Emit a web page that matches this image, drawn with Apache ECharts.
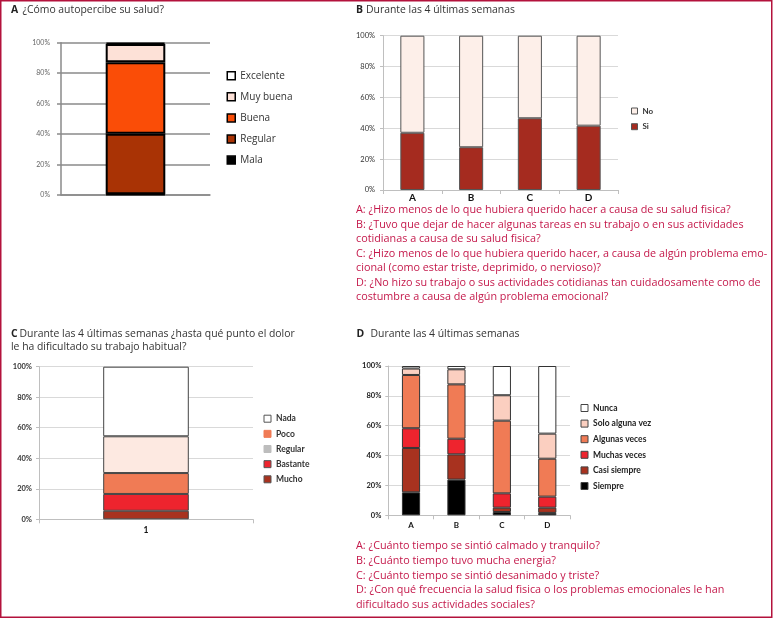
<!DOCTYPE html>
<html><head><meta charset="utf-8">
<script src="https://cdn.jsdelivr.net/npm/echarts@6/dist/echarts.min.js"></script>
<style>html,body{margin:0;padding:0;background:#fff}#c{width:773px;height:619px}</style>
</head><body><div id="c"></div>
<script>
// ---- Panel A data ----
const catA = [''];
const malaA = [0.5];
const regularA = [39.7];
const buenaA = [46.9];
const muyBuenaA = [12.0];
const excelenteA = [0.9];
// ---- Panel B data ----
const catB = ['A', 'B', 'C', 'D'];
const siB = [37.1, 27.7, 46.5, 41.7];
const noB = [62.9, 72.3, 53.5, 58.3];
// ---- Panel C data ----
const catC = ['1'];
const muchoC = [5.6];
const bastanteC = [11.0];
const regularC = [13.7];
const pocoC = [24.1];
const nadaC = [45.6];
// ---- Panel D data ----
const catD = ['A', 'B', 'C', 'D'];
const siempreD = [15.4, 23.9, 2.2, 1.6];
const casiSiempreD = [29.7, 16.9, 2.9, 3.5];
const muchasVecesD = [13.2, 10.5, 9.6, 7.4];
const algunasVecesD = [35.7, 36.4, 48.7, 25.4];
const soloAlgunaVezD = [4.3, 10.1, 17.0, 16.8];
const nuncaD = [1.7, 2.2, 19.6, 45.3];
// ---- tick labels ----
const yTickLabels = ['0%', '20%', '40%', '60%', '80%', '100%'];
// ---- texts ----
const titleA = ['A', '¿Cómo autopercibe su salud?'];
const titleB = ['B', 'Durante las 4 últimas semanas'];
const titleC = ['C', 'Durante las 4 últimas semanas ¿hasta qué punto el dolor', 'le ha dificultado su trabajo habitual?'];
const titleD = ['D', 'Durante las 4 últimas semanas'];
const questionsB = [
  'A: ¿Hizo menos de lo que hubiera querido hacer a causa de su salud fisica?',
  'B: ¿Tuvo que dejar de hacer algunas tareas en su trabajo o en sus actividades',
  'cotidianas a causa de su salud fisica?',
  'C: ¿Hizo menos de lo que hubiera querido hacer, a causa de algún problema emo-',
  'cional (como estar triste, deprimido, o nervioso)?',
  'D: ¿No hizo su trabajo o sus actividades cotidianas tan cuidadosamente como de',
  'costumbre a causa de algún problema emocional?'
];
const questionsD = [
  'A: ¿Cuánto tiempo se sintió calmado y tranquilo?',
  'B: ¿Cuánto tiempo tuvo mucha energia?',
  'C: ¿Cuánto tiempo se sintió desanimado y triste?',
  'D: ¿Con qué frecuencia la salud fisica o los problemas emocionales le han',
  'dificultado sus actividades sociales?'
];

const TF = "'Open Sans', 'Noto Sans', sans-serif";
const LF = "Lato, 'Liberation Sans', sans-serif";
const RED = '#c4184a';

const fmt = v => yTickLabels[Math.round(v / 20)];

function yAxis(gi, o) {
  return {
    type: 'value', gridIndex: gi, min: 0, max: 100, interval: 20,
    axisLine: { show: true, lineStyle: { color: o.axis, width: o.w } },
    axisTick: { show: true, length: o.tick, lineStyle: { color: o.axis, width: o.w } },
    splitLine: { show: true, lineStyle: { color: o.split, width: o.w } },
    axisLabel: { formatter: fmt, fontSize: o.fs, color: o.lc, fontFamily: LF, fontWeight: o.fw, margin: o.m }
  };
}
function xAxis(gi, data, o) {
  return {
    type: 'category', gridIndex: gi, data: data,
    axisLine: { show: true, lineStyle: { color: o.axis, width: o.w } },
    axisTick: { show: o.tick > 0, length: o.tick, lineStyle: { color: o.axis } },
    axisLabel: { show: o.label, fontSize: o.fs, color: '#111', fontFamily: LF, fontWeight: 'bold', margin: o.m }
  };
}
function bar(name, data, gi, stack, color, bc, bw, width) {
  return {
    type: 'bar', name: name, data: data, xAxisIndex: gi, yAxisIndex: gi, stack: stack,
    barWidth: width,
    itemStyle: { color: color, borderColor: bc, borderWidth: bw },
    emphasis: { disabled: true }
  };
}
function legend(left, top, gap, iw, ih, fs, lh, fw, color, items) {
  return {
    orient: 'vertical', left: left, top: top, padding: 0, itemGap: gap, itemWidth: iw, itemHeight: ih,
    icon: 'rect', selectedMode: false,
    textStyle: { fontSize: fs, lineHeight: lh, fontFamily: fs > 9 ? TF : LF, fontWeight: fw, color: color },
    data: items.map(it => ({ name: it[0], itemStyle: { color: it[1], borderColor: it[2], borderWidth: it[3] } }))
  };
}
function txt(x, y, s, size, color, weight) {
  return { type: 'text', x: x, y: y, silent: true,
    style: { text: s, fontSize: size, fontFamily: TF, fontWeight: weight || 'normal', fill: color, verticalAlign: 'middle', align: 'left' } };
}

const TS = 10.4, QS = 10.8;
const graphics = [
  { type: 'rect', silent: true, shape: { x: 0.75, y: 0.75, width: 771, height: 616.5 }, style: { fill: 'none', stroke: '#b3123c', lineWidth: 1.5 } },
  txt(11, 10, titleA[0], TS, '#222', 'bold'), txt(22.5, 10, titleA[1], TS, '#333'),
  txt(356, 10, titleB[0], TS, '#222', 'bold'), txt(366, 10, titleB[1], TS, '#333'),
  txt(11, 334, titleC[0], TS, '#222', 'bold'), txt(19.5, 334, titleC[1], TS, '#333'), txt(11, 347, titleC[2], TS, '#333'),
  txt(356.5, 334, titleD[0], TS, '#222', 'bold'), txt(370.5, 334, titleD[1], TS, '#333')
];
questionsB.forEach((s, i) => graphics.push(txt(356, 210 + i * 14.5, s, QS, RED)));
questionsD.forEach((s, i) => graphics.push(txt(356, 546 + i * 14.75, s, QS, RED)));

const option = {
  animation: false,
  backgroundColor: '#fff',
  grid: [
    { left: 61, top: 42.7, width: 149, height: 152.3 },
    { left: 383, top: 35.7, width: 235, height: 154.3 },
    { left: 39, top: 366.7, width: 214, height: 152.6 },
    { left: 388.3, top: 366, width: 181.7, height: 149.3 }
  ],
  xAxis: [
    xAxis(0, catA, { axis: '#8a8a8a', w: 1.5, tick: 0, label: false, fs: 8, m: 4 }),
    xAxis(1, catB, { axis: '#bfbfbf', w: 1, tick: 4, label: true, fs: 10, m: 3 }),
    xAxis(2, catC, { axis: '#bfbfbf', w: 1, tick: 4, label: true, fs: 8.5, m: 6 }),
    xAxis(3, catD, { axis: '#bfbfbf', w: 1, tick: 4, label: true, fs: 8, m: 6 })
  ],
  yAxis: [
    yAxis(0, { axis: '#8a8a8a', split: '#8a8a8a', w: 1.5, tick: 4, fs: 7, lc: '#666', fw: 'normal', m: 11 }),
    yAxis(1, { axis: '#bfbfbf', split: '#d9d9d9', w: 1, tick: 3, fs: 7.5, lc: '#333', fw: 'normal', m: 8 }),
    yAxis(2, { axis: '#bfbfbf', split: '#d9d9d9', w: 1, tick: 3, fs: 7.5, lc: '#333', fw: 'bold', m: 7 }),
    yAxis(3, { axis: '#bfbfbf', split: '#d9d9d9', w: 1, tick: 3, fs: 7.5, lc: '#222', fw: 'bold', m: 7 })
  ],
  legend: [
    legend(226.5, 70.7, 11.1, 8, 8, 10, 10, 'normal', '#333', [
      ['Excelente', '#ffffff', '#000', 1.5], ['Muy buena', '#fde1d7', '#000', 1.5], ['Buena', '#fa4d07', '#000', 1.5],
      ['Regular', '#a93305', '#000', 1.5], ['Mala', '#000000', '#000', 1.5]]),
    legend(631, 107, 7.7, 6, 6, 8, 8, 'bold', '#333', [
      ['No', '#fdefe9', '#555', 1], ['Si', '#a52b1f', '#555', 1]]),
    legend(263.5, 414.2, 6.15, 7, 7, 8.5, 9, 'bold', '#333', [
      ['Nada', '#ffffff', '#555', 1], ['Poco', '#f07b55', '#f07b55', 1], ['Regular', '#bdbdbd', '#bdbdbd', 1],
      ['Bastante', '#ee242e', '#555', 1], ['Mucho', '#a8321f', '#555', 1]]),
    legend(580.5, 403.5, 6.6, 7, 7, 8.5, 9, 'bold', '#222', [
      ['Nunca', '#ffffff', '#444', 1], ['Solo alguna vez', '#fbcfc0', '#444', 1], ['Algunas veces', '#f07b55', '#444', 1],
      ['Muchas veces', '#ee242e', '#444', 1], ['Casi siempre', '#a8321f', '#444', 1], ['Siempre', '#000000', '#444', 1]])
  ],
  series: [
    bar('Mala', malaA, 0, 'a', '#000000', '#000', 2, '40%'),
    bar('Regular', regularA, 0, 'a', '#a93305', '#000', 2, '40%'),
    bar('Buena', buenaA, 0, 'a', '#fa4d07', '#000', 2, '40%'),
    bar('Muy buena', muyBuenaA, 0, 'a', '#fde1d7', '#000', 2, '40%'),
    bar('Excelente', excelenteA, 0, 'a', '#ffffff', '#000', 2, '40%'),

    bar('Si', siB, 1, 'b', '#a52b1f', '#555', 1, '41%'),
    bar('No', noB, 1, 'b', '#fdefe9', '#555', 1, '41%'),

    bar('Mucho', muchoC, 2, 'c', '#a8321f', '#444', 1, '40%'),
    bar('Bastante', bastanteC, 2, 'c', '#ee242e', '#444', 1, '40%'),
    bar('Regular', regularC, 2, 'c', '#f07b55', '#444', 1, '40%'),
    bar('Poco', pocoC, 2, 'c', '#fde9e1', '#444', 1, '40%'),
    bar('Nada', nadaC, 2, 'c', '#ffffff', '#444', 1, '40%'),

    bar('Siempre', siempreD, 3, 'd', '#000000', '#333', 1, '40%'),
    bar('Casi siempre', casiSiempreD, 3, 'd', '#a8321f', '#333', 1, '40%'),
    bar('Muchas veces', muchasVecesD, 3, 'd', '#ee242e', '#333', 1, '40%'),
    bar('Algunas veces', algunasVecesD, 3, 'd', '#f07b55', '#333', 1, '40%'),
    bar('Solo alguna vez', soloAlgunaVezD, 3, 'd', '#fbcfc0', '#333', 1, '40%'),
    bar('Nunca', nuncaD, 3, 'd', '#ffffff', '#333', 1, '40%')
  ],
  graphic: graphics
};
const chart = echarts.init(document.getElementById('c'), null, { renderer: 'canvas' });
chart.setOption(option);
</script>
</body></html>
